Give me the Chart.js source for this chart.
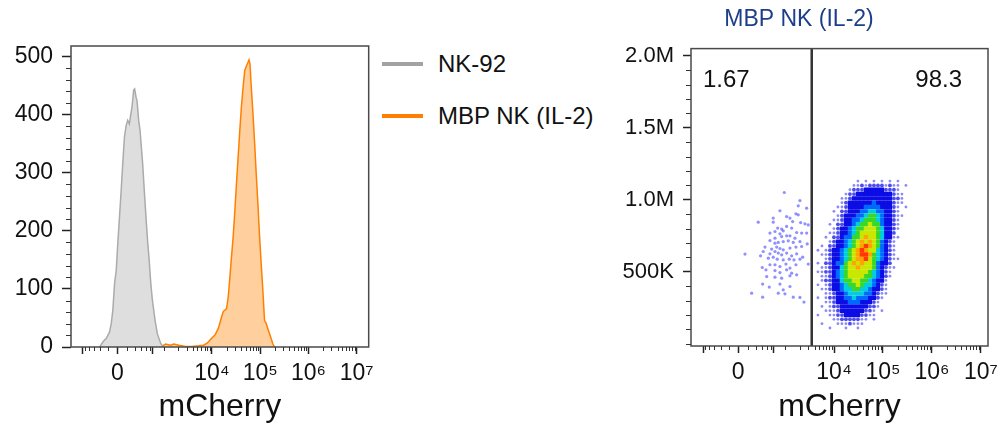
<!DOCTYPE html>
<html>
<head>
<meta charset="utf-8">
<script src="https://cdn.jsdelivr.net/npm/chart.js@4.4.1/dist/chart.umd.min.js"></script>
<style>
  html, body { margin: 0; padding: 0; width: 999px; height: 435px; overflow: hidden; background: #fff; }
  .panel { position: absolute; top: 0; height: 435px; }
  #histPanel { left: 0; width: 380px; }
  #dotPanel { left: 610px; width: 478px; }
  #legend { position: absolute; left: 382px; top: 38px; font-family: "Liberation Sans", Arial, Helvetica, sans-serif; font-size: 24px; color: #111; }
  .legend-row { display: flex; align-items: center; height: 52px; }
  .legend-swatch { display: inline-block; width: 41px; height: 4px; margin-right: 15px; }
</style>
</head>
<body>
<div class="panel" id="histPanel"><canvas id="histChart"></canvas></div>
<div id="legend"></div>
<div class="panel" id="dotPanel"><canvas id="dotChart"></canvas></div>
<script>
// ---- histogram (mCherry value, count) ----
const nk92Values = [-210, -165, -123, -85, -66, -49, -31, -13, 3, 21, 39, 56, 74, 93, 111, 131, 144, 165, 187, 201, 221, 236, 262, 285, 313, 332, 364, 400, 435, 475, 517, 560, 642, 720, 851, 963];
const nk92Counts = [0, 9, 15, 26, 41, 64, 109, 132, 178, 224, 270, 316, 361, 381, 390, 384, 396, 413, 442, 444, 430, 424, 390, 373, 338, 316, 270, 224, 184, 149, 109, 81, 46, 23, 6, 0];

const mbpValues = [332, 435, 560, 665, 920, 1084, 1377, 1613, 2046, 2810, 3841, 5270, 6675, 7795, 9871, 11590, 13550, 15830, 17160, 20040, 21710, 23540, 25370, 27490, 29810, 32130, 34800, 37740, 40680, 44070, 47780, 51500, 55790, 58540, 61360, 65230, 70650, 76610, 82580, 89430, 96980, 104500, 113200, 122700, 132300, 143300, 162900, 181500, 196700];
const mbpCounts = [0, 3, 5, 3, 2, 5, 3, 5, 3, 1, 1, 2, 3, 6, 15, 21, 32, 52, 61, 66, 86, 121, 155, 190, 235, 281, 327, 373, 413, 447, 476, 483, 490, 494, 487, 447, 402, 350, 298, 247, 190, 144, 98, 46, 41, 32, 18, 6, 0];

// ---- axis ticks ----
const xMajorTicks = [-550, 0, 550, 1e4, 1e5, 1e6, 1e7];
const xTickLabels = ['', '0', '', '10⁴', '10⁵', '10⁶', '10⁷'];
const histYTicks = [0, 100, 200, 300, 400, 500];
const dotYTicks = [500000, 1000000, 1500000, 2000000];
const dotYLabels = ['500K', '1.0M', '1.5M', '2.0M'];

// ---- dot plot: events left of the gate (mCherry, y) ----
const lowPopX = [949, 2007, 1852, 2754, 770, 552, 240, 552, 1065, 1248, 1660, 1852, 1418, 2075, 2542, 2969, 688, 837, 1065, 1353, 466, 602, 770, 904, 1716, 2176, 2754, 466, 602, 837, 1065, 1248, 1584, 2007, 2833, 602, 709, 904, 1151, 1461, 357, 509, 655, 770, 904, 1248, 1660, 2176, 324, 466, 602, 709, 837, 1065, 1353, 1716, 2281, 72, 277, 427, 552, 674, 904, 1208, 1510, 2007, 306, 466, 602, 770, 1030, 1248, 1660, 2969, 377, 602, 770, 1065, 1353, 392, 602, 837, 1248, 1716, 313, 450, 770, 904, 1248, 149, 313, 709, 982, 1461, 2007, 2425];
const lowPopY = [1051000, 995000, 958000, 942000, 924000, 873000, 845000, 845000, 884000, 873000, 903000, 896000, 849000, 842000, 833000, 826000, 804000, 797000, 815000, 804000, 769000, 780000, 764000, 785000, 773000, 769000, 769000, 717000, 734000, 745000, 750000, 750000, 734000, 710000, 694000, 699000, 704000, 710000, 715000, 704000, 672000, 658000, 672000, 662000, 653000, 665000, 672000, 676000, 641000, 625000, 641000, 630000, 618000, 630000, 611000, 625000, 602000, 623000, 611000, 595000, 602000, 588000, 583000, 588000, 583000, 588000, 530000, 549000, 549000, 537000, 554000, 526000, 549000, 554000, 514000, 509000, 495000, 514000, 491000, 467000, 463000, 456000, 472000, 479000, 415000, 394000, 415000, 375000, 398000, 352000, 324000, 352000, 347000, 324000, 322000, 290000];

// ---- dot plot: main population as density grid (0 = empty, 9 = densest) ----
const clusterColumnsX = [4690, 5670, 6840, 8250, 9960, 12020, 14510, 17520, 21150, 25530, 30810, 37190, 44890, 54180, 65420, 78960, 95300, 115000, 138800, 167600, 202300, 244200, 294800];
const clusterRowsY = [1130000, 1100000, 1070000, 1040000, 1010000, 980000, 950000, 920000, 890000, 860000, 830000, 800000, 770000, 740000, 710000, 680000, 650000, 620000, 590000, 560000, 530000, 500000, 470000, 440000, 410000, 380000, 350000, 320000, 290000, 260000, 230000, 200000, 170000, 140000, 110000];
const densityRows = [
  "00000000001010101010100",
  "00000000011212222121101",
  "00000000122233333222100",
  "00000001223333333332110",
  "00000011233333333332210",
  "00000012333333433332110",
  "00000112333344443332101",
  "00001022333445544332100",
  "00000123334456654332110",
  "00001123344566654332100",
  "00010223345667664332100",
  "00001233456677765332100",
  "00011233456777765332000",
  "00102234466787765331100",
  "00012334567878764321000",
  "01022334567898764321000",
  "10123345678987754321000",
  "01123345678998654321000",
  "00123345678897654321100",
  "10223446787877643320000",
  "01123356778777643211000",
  "11223456777776543210000",
  "01123456777766543210000",
  "01223356677665433100000",
  "10123345667655432100000",
  "01123345566554332100000",
  "00112334555544321100000",
  "10122334454443321000000",
  "00112333444333210000000",
  "01012233333332210000000",
  "00111233333322101000000",
  "10011223333221100000000",
  "00001122222110100000000",
  "01000111211100000000000",
  "00010001001000000000000"
];
const gateX = 3500;
const gateLabels = ['1.67', '98.3'];

const levelColors = ['', 'rgba(60,60,250,0.6)', 'rgba(30,30,240,0.8)', 'rgb(12,12,228)', 'rgb(0,105,255)', 'rgb(0,205,225)', 'rgb(55,215,45)', 'rgb(200,232,0)', 'rgb(255,165,0)', 'rgb(255,55,0)'];

Chart.defaults.font.family = '"Liberation Sans", Arial, Helvetica, sans-serif';
Chart.defaults.color = "#111";

// biexponential-like (arcsinh) axis used by flow cytometry software
const COFACTOR = 220;
const biexT = (v) => Math.asinh(v / COFACTOR);

class BiexScale extends Chart.LinearScale {
  static id = "biex";
  getPixelForValue(value) {
    const t0 = biexT(this.min);
    const t1 = biexT(this.max);
    return this.getPixelForDecimal((biexT(value) - t0) / (t1 - t0));
  }
  getValueForPixel(pixel) {
    const t0 = biexT(this.min);
    const t1 = biexT(this.max);
    return COFACTOR * Math.sinh(t0 + this.getDecimalForPixel(pixel) * (t1 - t0));
  }
}
Chart.register(BiexScale);

// minor tick marks
const xMinorTicks = [-500, -400, -300, -200, -100, 100, 200, 300, 400, 500, 1000];
[1e3, 1e4, 1e5, 1e6].forEach((decade) => {
  for (let m = 2; m <= 9; m++) xMinorTicks.push(m * decade);
});
const histYMinor = [];
for (let v = 20; v < 518; v += 20) if (v % 100) histYMinor.push(v);
const dotYMinor = [];
for (let v = 0; v <= 2000000; v += 100000) if (v % 500000 || v === 0) dotYMinor.push(v);

const framePlugin = {
  id: "frame",
  afterDatasetsDraw(chart) {
    const { ctx, chartArea } = chart;
    ctx.save();
    ctx.strokeStyle = "#4a4a4a";
    ctx.lineWidth = 1.5;
    ctx.strokeRect(chartArea.left, chartArea.top, chartArea.width, chartArea.height);
    ctx.restore();
  },
};

const minorTickPlugin = {
  id: "minorTicks",
  afterDraw(chart, args, opts) {
    const { ctx, chartArea, scales } = chart;
    ctx.save();
    ctx.strokeStyle = "#333";
    ctx.lineWidth = 1;
    ctx.beginPath();
    opts.x.forEach((v) => {
      const px = Math.round(scales.x.getPixelForValue(v)) + 0.5;
      ctx.moveTo(px, chartArea.bottom);
      ctx.lineTo(px, chartArea.bottom + 4);
    });
    opts.y.forEach((v) => {
      const py = Math.round(scales.y.getPixelForValue(v)) + 0.5;
      ctx.moveTo(chartArea.left - 5, py);
      ctx.lineTo(chartArea.left, py);
    });
    ctx.stroke();
    ctx.restore();
  },
};

const gateLabelPlugin = {
  id: "gateLabels",
  afterDatasetsDraw(chart, args, opts) {
    const { ctx, chartArea } = chart;
    ctx.save();
    ctx.font = '24px "Liberation Sans", Arial, Helvetica, sans-serif';
    ctx.fillStyle = "#111";
    ctx.textBaseline = "middle";
    ctx.textAlign = "left";
    ctx.fillText(opts.labels[0], chartArea.left + 12, chartArea.top + 32);
    ctx.textAlign = "right";
    ctx.fillText(opts.labels[1], chartArea.right - 26, chartArea.top + 32);
    ctx.restore();
  },
};

// shared x axis (mCherry)
function mCherryAxis(maxValue, axisHeight) {
  return {
    type: "biex",
    min: -1000,
    max: maxValue,
    afterBuildTicks: (axis) => {
      axis.ticks = xMajorTicks.map((value) => ({ value }));
    },
    afterFit: (axis) => {
      axis.height = axisHeight;
    },
    grid: { drawOnChartArea: false, tickLength: 7, tickWidth: 1.5, tickColor: "#222" },
    border: { display: false },
    ticks: {
      autoSkip: false,
      maxRotation: 0,
      minRotation: 0,
      padding: 6,
      font: { size: 23 },
      callback: (value, index) => xTickLabels[index],
    },
    title: { display: true, text: "mCherry", font: { size: 32 }, padding: { top: 0, bottom: 9 } },
  };
}

// ---- left: histogram ----
const histChart = new Chart(document.getElementById("histChart"), {
  type: "line",
  data: {
    datasets: [
      {
        label: "NK-92",
        data: nk92Values.map((x, i) => ({ x, y: nk92Counts[i] })),
        borderColor: "#ababab",
        backgroundColor: "#dedede",
        fill: "origin",
        borderWidth: 1.5,
        pointRadius: 0,
        tension: 0,
      },
      {
        label: "MBP NK (IL-2)",
        data: mbpValues.map((x, i) => ({ x, y: mbpCounts[i] })),
        borderColor: "#ff7f00",
        backgroundColor: "rgba(255,150,40,0.45)",
        fill: "origin",
        borderWidth: 1.5,
        pointRadius: 0,
        tension: 0,
      },
    ],
  },
  options: {
    responsive: true,
    maintainAspectRatio: false,
    animation: false,
    layout: { padding: { top: 46, right: 8, bottom: 0, left: 0 } },
    plugins: {
      legend: { display: false },
      tooltip: { enabled: false },
      minorTicks: { x: xMinorTicks, y: histYMinor },
    },
    scales: {
      x: mCherryAxis(17700000, 88),
      y: {
        min: 0,
        max: 518,
        afterBuildTicks: (axis) => {
          axis.ticks = histYTicks.map((value) => ({ value }));
        },
        afterFit: (axis) => {
          axis.width = 71;
        },
        grid: { drawOnChartArea: false, tickLength: 9, tickWidth: 1.5, tickColor: "#222" },
        border: { display: false },
        ticks: { padding: 9, font: { size: 23 }, callback: (value) => String(value) },
      },
    },
  },
  plugins: [framePlugin, minorTickPlugin],
});

// html legend built from the chart's datasets
const legendBox = document.getElementById("legend");
histChart.data.datasets.forEach((ds) => {
  const row = document.createElement("div");
  row.className = "legend-row";
  const swatch = document.createElement("span");
  swatch.className = "legend-swatch";
  swatch.style.background = ds.label === "NK-92" ? "#a3a3a3" : ds.borderColor;
  const text = document.createElement("span");
  text.textContent = ds.label;
  row.appendChild(swatch);
  row.appendChild(text);
  legendBox.appendChild(row);
});

// ---- right: dot plot ----
const levelPoints = levelColors.map(() => []);
densityRows.forEach((row, r) => {
  row.split("").forEach((ch, c) => {
    const level = Number(ch);
    if (level > 0) levelPoints[level].push({ x: clusterColumnsX[c], y: clusterRowsY[r] });
  });
});

const dotDatasets = [
  {
    label: "gate",
    data: [
      { x: gateX, y: -15000 },
      { x: gateX, y: 2050000 },
    ],
    showLine: true,
    borderColor: "#333",
    borderWidth: 2.5,
    pointRadius: 0,
  },
];
for (let level = 9; level >= 1; level--) {
  dotDatasets.push({
    label: "level " + level,
    data: levelPoints[level],
    pointStyle: level <= 2 ? "circle" : "rect",
    pointRadius: level === 1 ? 1.4 : level === 2 ? 1.9 : 3.1,
    backgroundColor: levelColors[level],
    borderWidth: 0,
  });
}
dotDatasets.push({
  label: "below gate",
  data: lowPopX.map((x, i) => ({ x, y: lowPopY[i] })),
  pointStyle: "circle",
  pointRadius: 1.6,
  backgroundColor: "rgba(70,70,255,0.6)",
  borderWidth: 0,
});

new Chart(document.getElementById("dotChart"), {
  type: "scatter",
  data: { datasets: dotDatasets },
  options: {
    responsive: true,
    maintainAspectRatio: false,
    animation: false,
    layout: { padding: { top: 0, right: 100, bottom: 0, left: 0 } },
    plugins: {
      legend: { display: false },
      tooltip: { enabled: false },
      title: {
        display: true,
        text: "MBP NK (IL-2)",
        color: "#1d3f8a",
        font: { size: 23, weight: "normal" },
        padding: { top: 6, bottom: 15 },
      },
      minorTicks: { x: xMinorTicks, y: dotYMinor },
      gateLabels: { labels: gateLabels },
    },
    scales: {
      x: mCherryAxis(14000000, 89),
      y: {
        min: -15000,
        max: 2050000,
        afterBuildTicks: (axis) => {
          axis.ticks = dotYTicks.map((value) => ({ value }));
        },
        afterFit: (axis) => {
          axis.width = 81;
        },
        grid: { drawOnChartArea: false, tickLength: 8, tickWidth: 1.5, tickColor: "#222" },
        border: { display: false },
        ticks: { padding: 9, font: { size: 22 }, callback: (value, index) => dotYLabels[index] },
      },
    },
  },
  plugins: [framePlugin, minorTickPlugin, gateLabelPlugin],
});
</script>
</body>
</html>
